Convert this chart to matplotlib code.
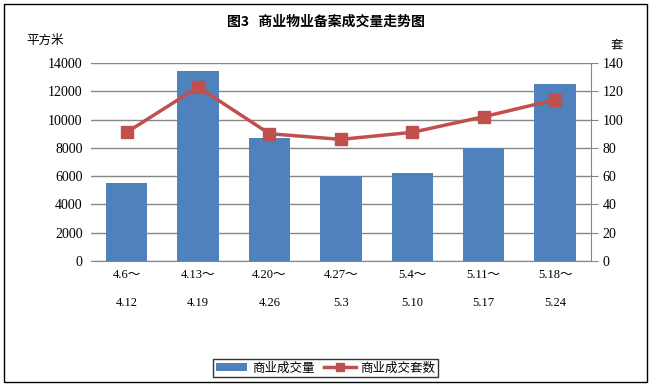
import matplotlib.pyplot as plt
import numpy as np

plt.rcParams['font.family'] = ['Noto Sans CJK SC', 'DejaVu Sans']

weeks = ['4.6～\n\n4.12', '4.13～\n\n4.19', '4.20～\n\n4.26', '4.27～\n\n5.3',
         '5.4～\n\n5.10', '5.11～\n\n5.17', '5.18～\n\n5.24']
area = [5550, 13400, 8700, 6000, 6200, 8000, 12500]
units = [91, 123, 90, 86, 91, 102, 114]

fig = plt.figure(figsize=(6.51, 3.86), dpi=100)
ax = fig.add_axes([0.1398, 0.3238, 0.7676, 0.513])
x = np.arange(len(weeks))

ax.bar(x, area, width=0.58, color='#4F81BD', zorder=2, label='商业成交量')
ax.set_ylim(0, 14000)
ax.set_yticks(range(0, 14001, 2000))
ax.set_xlim(-0.5, len(weeks) - 0.5)
ax.set_xticks(x)
ax.set_xticklabels(weeks, fontsize=9, family=['Liberation Serif', 'Noto Sans CJK SC'])
ax.yaxis.grid(True, color='#868686', linewidth=1, zorder=0)
ax.tick_params(axis='y', length=0, labelsize=10, pad=6)
ax.tick_params(axis='x', length=0, pad=6)
for lbl in ax.get_yticklabels():
    lbl.set_family('Liberation Serif')
for s in ['left', 'top', 'right']:
    ax.spines[s].set_visible(False)
ax.spines['bottom'].set_color('#868686')

ax2 = ax.twinx()
ax2.plot(x, units, color='#C0504D', linewidth=2.5, marker='s', markersize=9,
         zorder=3, label='商业成交套数')
ax2.set_ylim(0, 140)
ax2.set_yticks(range(0, 141, 20))
ax2.tick_params(axis='y', length=5, color='#868686', labelsize=10)
for lbl in ax2.get_yticklabels():
    lbl.set_family('Liberation Serif')
for s in ['left', 'top', 'bottom']:
    ax2.spines[s].set_visible(False)
ax2.spines['right'].set_color('#868686')

fig.text(0.5, 0.945, '图3   商业物业备案成交量走势图', ha='center', va='center',
         fontsize=10, fontweight='bold')
fig.text(0.069, 0.896, '平方米', ha='center', va='center', fontsize=9)
fig.text(0.948, 0.883, '套', ha='center', va='center', fontsize=9)

h1, l1 = ax.get_legend_handles_labels()
h2, l2 = ax2.get_legend_handles_labels()
fig.legend(h1 + h2, l1 + l2, loc='center', bbox_to_anchor=(0.5, 0.047), ncol=2,
           fontsize=9, frameon=True, fancybox=False, edgecolor='black',
           handlelength=2.5, columnspacing=0.8, borderpad=0.2, handletextpad=0.4,
           markerscale=0.7)

fig.patches.append(plt.Rectangle((0.006, 0.01), 0.988, 0.98, transform=fig.transFigure,
                                 fill=False, edgecolor='black', linewidth=1))

fig.savefig('out.png', dpi=100)
